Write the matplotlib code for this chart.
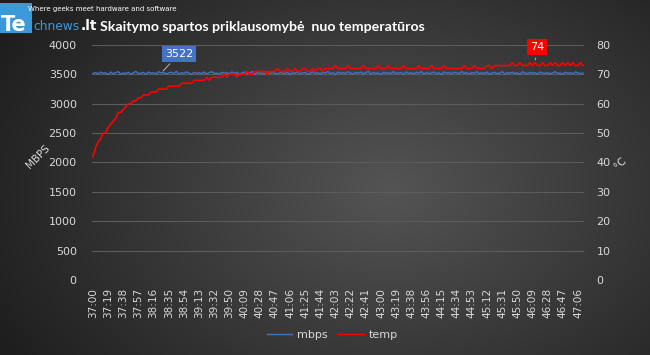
import numpy as np
import matplotlib.pyplot as plt
from matplotlib.lines import Line2D

title = "Skaitymo spartos priklausomybė  nuo temperatūros"

tick_labels = ["37:00", "37:19", "37:38", "37:57", "38:16", "38:35", "38:54", "39:13",
               "39:32", "39:50", "40:09", "40:28", "40:47", "41:06", "41:25", "41:44",
               "42:03", "42:22", "42:41", "43:00", "43:19", "43:38", "43:56", "44:15",
               "44:34", "44:53", "45:12", "45:31", "45:50", "46:09", "46:28", "46:47",
               "47:06"]

mbps = [3515, 3532, 3508, 3540, 3519, 3526, 3497, 3538, 3512, 3529, 3546, 3505, 3524, 3517, 3536,
        3502, 3528, 3549, 3514, 3521, 3533, 3499, 3540, 3518, 3527, 3509, 3544, 3522, 3531, 3506,
        3525, 3537, 3511, 3550, 3503, 3529, 3516, 3542, 3522, 3500, 3535, 3519, 3527, 3512, 3539,
        3508, 3530, 3545, 3514, 3523, 3497, 3536, 3520, 3528, 3510, 3541, 3517, 3533, 3504, 3526,
        3539, 3513, 3522, 3548, 3501, 3531, 3518, 3527, 3509, 3543, 3516, 3535, 3521, 3506, 3530,
        3524, 3512, 3538, 3499, 3529, 3517, 3545, 3510, 3526, 3534, 3503, 3520, 3541, 3515, 3528,
        3507, 3536, 3522, 3549, 3511, 3527, 3495, 3539, 3518, 3530, 3513, 3544, 3521, 3505, 3533,
        3519, 3540, 3509, 3526, 3552, 3502, 3531, 3516, 3524, 3498, 3537, 3520, 3529, 3511, 3546,
        3514, 3525, 3533, 3500, 3541, 3518, 3527, 3508, 3535, 3522, 3547, 3504, 3530, 3516, 3523,
        3538, 3510, 3528, 3496, 3542, 3519, 3531, 3507, 3536, 3524, 3513, 3548, 3517, 3529, 3503,
        3532, 3520, 3544, 3509, 3527, 3515, 3539, 3501, 3525, 3534, 3511, 3521, 3546, 3506, 3530,
        3518, 3537, 3512, 3528, 3499, 3543, 3522, 3510, 3535, 3516, 3529, 3505, 3540, 3523, 3514,
        3531, 3508, 3526, 3545, 3517, 3522, 3502, 3536, 3519, 3528, 3511, 3541, 3525, 3513, 3522]

temp = [42, 45, 47, 48, 50, 50, 52, 53, 54, 55, 57, 57, 58, 59, 60,
        60, 61, 61, 62, 62, 63, 63, 63, 64, 64, 64, 65, 65, 65, 65,
        66, 66, 66, 66, 66, 67, 67, 67, 67, 67, 68, 68, 68, 68, 68,
        69, 68, 69, 69, 69, 69, 69, 70, 69, 70, 70, 70, 69, 70, 70,
        70, 71, 70, 70, 71, 71, 71, 71, 71, 70, 71, 71, 71, 72, 71,
        71, 71, 72, 71, 71, 72, 71, 71, 72, 72, 71, 71, 72, 71, 72,
        72, 71, 72, 72, 72, 72, 73, 72, 72, 72, 72, 73, 72, 72, 72,
        72, 72, 73, 72, 72, 72, 72, 72, 73, 72, 72, 72, 73, 72, 72,
        72, 72, 72, 73, 72, 72, 72, 72, 72, 73, 72, 72, 72, 72, 73,
        72, 72, 72, 72, 73, 72, 72, 72, 72, 72, 72, 72, 73, 72, 72,
        72, 73, 72, 72, 72, 72, 73, 73, 72, 73, 73, 73, 73, 73, 73,
        73, 74, 73, 73, 74, 73, 73, 73, 74, 73, 74, 73, 73, 74, 73,
        73, 74, 73, 74, 73, 73, 74, 73, 74, 73, 74, 73, 73, 74, 73]

mbps_label_idx = 27
temp_label_idx = 175
tick_step = 6

x = np.arange(len(mbps))
fg = "#d9d9d9"

fig = plt.figure(figsize=(6.5, 3.55), dpi=100)

# dark radial background
bg = fig.add_axes([0, 0, 1, 1], zorder=-10)
yy, xx = np.mgrid[0:355, 0:650]
r = np.sqrt(((xx - 390) / 420.0) ** 2 + ((yy - 190) / 300.0) ** 2)
shade = np.clip(0.33 - 0.2 * r, 0.12, 0.33)
bg.imshow(np.dstack([shade] * 3), aspect="auto", extent=[0, 1, 0, 1])
bg.axis("off")

ax = fig.add_axes([0.1415, 0.2113, 0.757, 0.662])
ax.patch.set_alpha(0)
ax2 = ax.twinx()

ax.plot(x, mbps, color="#4472c4", lw=1.0, zorder=3)
ax2.plot(x, temp, color="#ff0000", lw=1.2, zorder=4)

ax.set_ylim(0, 4000)
ax.set_yticks(range(0, 4001, 500))
ax2.set_ylim(0, 80)
ax2.set_yticks(range(0, 81, 10))
ax.set_xlim(-0.4, 194.4)
ax.set_xticks(x[::tick_step][:len(tick_labels)])
ax.set_xticklabels(tick_labels, rotation=90)
ax.grid(axis="y", color="#5c5c5c", lw=0.8)
ax.set_axisbelow(True)

for a in (ax, ax2):
    for s in a.spines.values():
        s.set_visible(False)
    a.tick_params(length=0, colors=fg, labelsize=8)
ax.tick_params(axis="y", pad=11)
ax2.tick_params(axis="y", pad=9)
ax.tick_params(axis="x", pad=6, labelsize=7.5)

fig.text(0.058, 0.56, "MBPS", rotation=45, color=fg, fontsize=7.5,
         ha="center", va="center")
fig.text(0.955, 0.54, "°C", rotation=45, color=fg, fontsize=7.5,
         ha="center", va="center")

# data labels
ax.annotate(str(mbps[mbps_label_idx]), xy=(mbps_label_idx, mbps[mbps_label_idx]),
            xytext=(179, 301), textcoords="figure pixels", color="white", fontsize=8,
            ha="center", va="center",
            bbox=dict(boxstyle="square,pad=0.25", fc="#4472c4", ec="none"),
            arrowprops=dict(arrowstyle="-", color="#a6a6a6", lw=0.8))
ax2.annotate(str(temp[temp_label_idx]), xy=(temp_label_idx, temp[temp_label_idx]),
             xytext=(537, 308), textcoords="figure pixels", color="white", fontsize=8,
             ha="center", va="center",
             bbox=dict(boxstyle="square,pad=0.3", fc="#ff0000", ec="none"),
             arrowprops=dict(arrowstyle="-", color="#a6a6a6", lw=0.8))

# legend
handles = [Line2D([], [], color="#4472c4", lw=1), Line2D([], [], color="#ff0000", lw=1)]
fig.legend(handles, ["mbps", "temp"], loc="center", bbox_to_anchor=(0.511, 0.057),
           ncol=2, frameon=False, labelcolor=fg, fontsize=8, handlelength=2.3,
           columnspacing=1.0, handletextpad=0.4)

# title and logo
px = fig.transFigure.inverted()
def fpos(xp, yp):
    return px.transform((xp, 355 - yp))

fig.text(*fpos(100, 31), title, color="white", fontsize=10.2, fontweight="bold",
         family="Lato")
fig.patches.append(plt.Rectangle(fpos(0, 33), 32 / 650, 30 / 355, transform=fig.transFigure,
                                 fc="#3a9ad9", ec="none"))
fig.text(*fpos(1, 31), "Te", color="white", fontsize=15, fontweight="bold")
fig.text(*fpos(33, 30), "chnews", color="#3a9ad9", fontsize=8.8)
fig.text(*fpos(81, 30), ".lt", color="white", fontsize=10, fontweight="bold")
fig.text(*fpos(28, 11), "Where geeks meet hardware and software", color="white", fontsize=5)

fig.savefig("out.png", dpi=100, facecolor="#2b2b2b")
